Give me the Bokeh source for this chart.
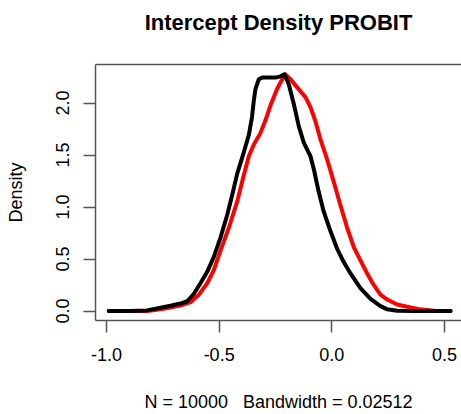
from bokeh.plotting import figure
from bokeh.models import Range1d, FixedTicker, LinearAxis
from bokeh.embed import file_html
from bokeh.resources import INLINE

# ---- data ----
black_x = [-0.990, -0.893, -0.820, -0.760, -0.716, -0.672, -0.642, -0.612, -0.583, -0.553,
           -0.524, -0.494, -0.464, -0.442, -0.420, -0.391, -0.368, -0.354, -0.346, -0.339,
           -0.324, -0.309, -0.280, -0.250, -0.228, -0.210, -0.191, -0.169, -0.146, -0.124,
           -0.095, -0.080, -0.058, -0.036, -0.006, 0.024, 0.053, 0.083, 0.127, 0.172,
           0.216, 0.246, 0.290, 0.364, 0.438, 0.527]
black_y = [0.000, 0.000, 0.006, 0.031, 0.050, 0.072, 0.094, 0.166, 0.267, 0.377,
           0.518, 0.706, 0.926, 1.115, 1.319, 1.523, 1.695, 1.868, 2.025, 2.135,
           2.229, 2.245, 2.245, 2.245, 2.257, 2.276, 2.182, 1.994, 1.774, 1.617,
           1.491, 1.366, 1.146, 0.958, 0.769, 0.597, 0.471, 0.361, 0.220, 0.116,
           0.047, 0.016, 0.003, 0.000, 0.000, 0.000]

red_x = [-0.990, -0.820, -0.746, -0.672, -0.627, -0.590, -0.553, -0.524, -0.494, -0.457,
         -0.420, -0.391, -0.368, -0.346, -0.317, -0.294, -0.272, -0.243, -0.220, -0.206,
         -0.183, -0.154, -0.117, -0.095, -0.072, -0.050, -0.021, 0.009, 0.038, 0.068,
         0.098, 0.127, 0.157, 0.186, 0.216, 0.246, 0.290, 0.334, 0.393, 0.453, 0.527]
red_y = [0.000, 0.000, 0.022, 0.053, 0.085, 0.157, 0.267, 0.392, 0.581, 0.801,
         1.052, 1.303, 1.491, 1.601, 1.711, 1.837, 1.978, 2.135, 2.229, 2.276,
         2.229, 2.151, 2.057, 1.962, 1.821, 1.648, 1.460, 1.240, 1.020, 0.801,
         0.612, 0.487, 0.361, 0.251, 0.157, 0.110, 0.063, 0.041, 0.016, 0.003, 0.000]

x_ticks = [-1.0, -0.5, 0.0, 0.5]
x_tick_labels = ["-1.0", "-0.5", "0.0", "0.5"]
y_ticks = [0.0, 0.5, 1.0, 1.5, 2.0]
y_tick_labels = ["0.0", "0.5", "1.0", "1.5", "2.0"]

title_text = "Intercept Density PROBIT"
x_label = "N = 10000 \u00a0 Bandwidth = 0.02512"
y_label = "Density"

FONT = "Liberation Sans"
GRAY = "#555555"

p = figure(width=461, height=414, output_backend="svg", toolbar_location=None,
           x_range=Range1d(-1.0488, 0.5757), y_range=Range1d(-0.0912, 2.371),
           min_border_left=95, min_border_right=0, min_border_top=64, min_border_bottom=90)

p.outline_line_color = None
p.grid.visible = False
p.background_fill_color = "white"
p.border_fill_color = "white"

for ax in (p.xaxis[0], p.yaxis[0]):
    ax.axis_line_color = GRAY
    ax.axis_line_width = 1.5
    ax.major_tick_line_color = GRAY
    ax.major_tick_line_width = 1.5
    ax.major_tick_out = 12
    ax.major_tick_in = 0
    ax.minor_tick_line_color = None
    ax.major_label_text_font = FONT
    ax.major_label_text_font_size = "18px"
    ax.major_label_text_color = "black"
    ax.axis_label_text_font = FONT
    ax.axis_label_text_font_size = "18px"
    ax.axis_label_text_font_style = "normal"
    ax.axis_label_text_color = "black"

p.xaxis[0].ticker = FixedTicker(ticks=x_ticks)
p.xaxis[0].major_label_overrides = dict(zip(x_ticks, x_tick_labels))
p.xaxis[0].major_label_standoff = 15
p.xaxis[0].axis_label = x_label
p.xaxis[0].axis_label_standoff = 28

p.yaxis[0].ticker = FixedTicker(ticks=y_ticks)
p.yaxis[0].major_label_overrides = dict(zip(y_ticks, y_tick_labels))
p.yaxis[0].major_label_orientation = "vertical"
p.yaxis[0].major_label_standoff = 14
p.yaxis[0].axis_label = y_label
p.yaxis[0].axis_label_standoff = 28

# top side of the box, carrying the main title as its label
top = LinearAxis(ticker=FixedTicker(ticks=[]), axis_line_color=GRAY, axis_line_width=1.5,
                 major_tick_out=0, major_tick_in=0, minor_tick_out=0, minor_tick_in=0,
                 major_label_standoff=0,
                 axis_label=title_text, axis_label_standoff=30,
                 axis_label_text_font=FONT, axis_label_text_font_size="22px",
                 axis_label_text_font_style="bold", axis_label_text_color="black")
p.add_layout(top, "above")

p.line(red_x, red_y, line_color="#ff0000", line_width=4, line_join="round", line_cap="round")
p.line(black_x, black_y, line_color="black", line_width=4, line_join="round", line_cap="round")

open("out.html", "w").write(file_html(p, INLINE))
